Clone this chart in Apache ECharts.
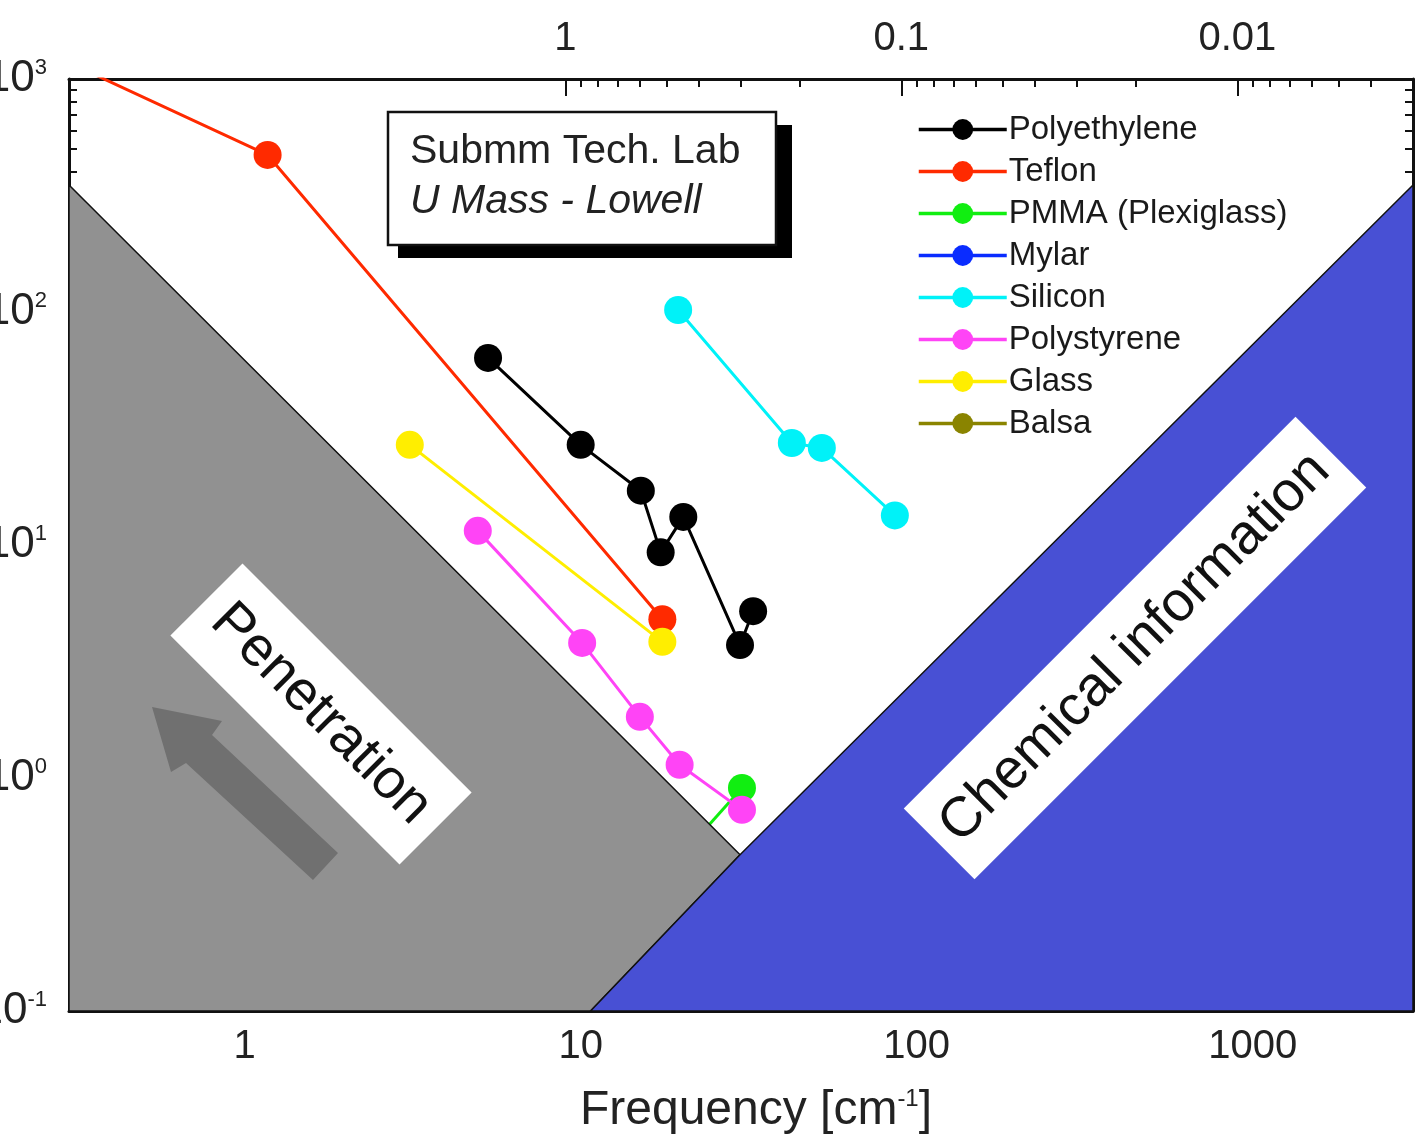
<!DOCTYPE html>
<html style="height: 100%">
<head>
    <meta charset="utf-8"/>
</head>
<body style="height: 100%; margin: 0; overflow: hidden; background: #fff">
<div id="container" style="width: 1415px; height: 1144px"></div>

<script type="text/javascript" src="https://cdn.jsdelivr.net/npm/echarts@6/dist/echarts.min.js"></script>

<script type="text/javascript">
    // measured points, frequency [cm-1] vs. depth
    var polyethyleneX = [5.3, 10.0, 15.1, 17.3, 20.2, 29.8, 32.6];
    var polyethyleneY = [63.5, 26.9, 17.1, 9.3, 13.2, 3.72, 5.2];
    var teflonX = [0.34, 1.17, 17.5];
    var teflonY = [1080, 472, 4.8];
    var pmmaX = [17.2, 30.2];
    var pmmaY = [0.365, 0.906];
    var mylarX = [];
    var mylarY = [];
    var siliconX = [19.5, 42.5, 52.2, 86.1];
    var siliconY = [102, 27.4, 26.1, 13.4];
    var polystyreneX = [4.94, 10.1, 15.0, 19.7, 30.2];
    var polystyreneY = [11.5, 3.80, 1.83, 1.14, 0.73];
    var glassX = [3.10, 17.5];
    var glassY = [26.9, 3.84];
    var balsaX = [];
    var balsaY = [];

    // shaded regions (corner points)
    var penetrationX = [0.3, 29.8, 10.7, 0.3];
    var penetrationY = [351, 0.468, 0.1, 0.1];
    var chemicalX = [10.7, 29.8, 3000, 3000];
    var chemicalY = [0.1, 0.468, 351, 0.1];

    // ticks
    var freqLabels = [1, 10, 100, 1000];
    var freqMinor = [0.4, 0.5, 0.6, 0.7, 0.8, 0.9, 2, 3, 4, 5, 6, 7, 8, 9,
        20, 30, 40, 50, 60, 70, 80, 90, 200, 300, 400, 500, 600, 700, 800, 900, 2000];
    var waveLabels = [1, 0.1, 0.01];
    var waveMinor = [0.2, 0.3, 0.4, 0.5, 0.6, 0.7, 0.8, 0.9,
        0.02, 0.03, 0.04, 0.05, 0.06, 0.07, 0.08, 0.09,
        0.004, 0.005, 0.006, 0.007, 0.008, 0.009];
    var depthLabels = [0.1, 1, 10, 100, 1000];
    var depthMinor = [0.2, 0.3, 0.4, 0.5, 0.6, 0.7, 0.8, 0.9, 2, 3, 4, 5, 6, 7, 8, 9,
        20, 30, 40, 50, 60, 70, 80, 90, 200, 300, 400, 500, 600, 700, 800, 900];

    var FONT = '"Liberation Sans", Arial, sans-serif';

    function pairs(xs, ys) {
        return xs.map(function (x, i) { return [x, ys[i]]; });
    }

    function dataLine(name, xs, ys, color) {
        return {
            name: name,
            type: 'line',
            xAxisIndex: 0,
            yAxisIndex: 0,
            data: pairs(xs, ys),
            symbol: 'circle',
            symbolSize: 28,
            color: color,
            lineStyle: {width: 3, color: color},
            itemStyle: {color: color},
            clip: true,
            z: 2
        };
    }

    function region(xs, ys, fill) {
        return {
            type: 'custom',
            xAxisIndex: 0,
            yAxisIndex: 0,
            data: [[1, 1]],
            silent: true,
            z: 5,
            renderItem: function (params, api) {
                var pts = xs.map(function (x, i) { return api.coord([x, ys[i]]); });
                return {
                    type: 'polygon',
                    shape: {points: pts},
                    style: {fill: fill, stroke: '#111', lineWidth: 1.5}
                };
            }
        };
    }

    function tickAxis(base, values, len, extra) {
        var a = Object.assign({}, base, {
            axisLine: {show: false},
            axisLabel: {show: false},
            splitLine: {show: false},
            axisTick: {show: true, inside: true, length: len, customValues: values,
                lineStyle: {color: '#111', width: 2}}
        });
        return Object.assign(a, extra || {});
    }

    var freqBase = {type: 'log', min: 0.3, max: 3000, position: 'bottom', gridIndex: 0};
    var waveBase = {type: 'log', min: 0.003, max: 30, inverse: true, position: 'top', gridIndex: 0};
    var leftBase = {type: 'log', min: 0.1, max: 1000, position: 'left', gridIndex: 0};
    var rightBase = {type: 'log', min: 0.1, max: 1000, position: 'right', gridIndex: 0};

    var frameLine = {show: true, lineStyle: {color: '#111', width: 3}};

    var dom = document.getElementById('container');
    var myChart = echarts.init(dom, null, {renderer: 'canvas'});

    var option = {
        backgroundColor: '#fff',
        animation: false,
        grid: {left: 69, right: 2, top: 79, bottom: 133, containLabel: false, outerBoundsMode: 'none'},
        legend: {
            data: ['Polyethylene', 'Teflon', 'PMMA (Plexiglass)', 'Mylar', 'Silicon', 'Polystyrene', 'Glass', 'Balsa'],
            orient: 'vertical',
            left: 912,
            top: 108,
            itemWidth: 88,
            itemHeight: 26,
            itemGap: 9,
            selectedMode: false,
            lineStyle: {width: 3.5},
            textStyle: {fontFamily: FONT, fontSize: 33, color: '#1a1a1a', padding: [0, 0, 0, -3]}
        },
        xAxis: [
            Object.assign({}, freqBase, {
                name: '{a|Frequency [cm}{s|-1}{a|]}',
                nameLocation: 'middle',
                nameGap: 76,
                nameTextStyle: {
                    padding: [0, 0, 0, 30],
                    rich: {
                        a: {fontFamily: FONT, fontSize: 48, color: '#222'},
                        s: {fontFamily: FONT, fontSize: 24, color: '#222', verticalAlign: 'top'}
                    }
                },
                axisLine: frameLine,
                splitLine: {show: false},
                axisTick: {show: true, inside: true, length: 16, customValues: freqLabels,
                    lineStyle: {color: '#111', width: 2}},
                axisLabel: {
                    customValues: freqLabels,
                    margin: 16,
                    fontFamily: FONT, fontSize: 40, color: '#222',
                    formatter: function (v) { return String(Math.round(v)); }
                }
            }),
            tickAxis(freqBase, freqMinor, 8),
            Object.assign({}, waveBase, {
                name: 'Wavelength [mm]',
                nameLocation: 'middle',
                nameGap: 79,
                nameTextStyle: {fontFamily: FONT, fontSize: 48, color: '#222'},
                axisLine: frameLine,
                splitLine: {show: false},
                axisTick: {show: true, inside: true, length: 17, customValues: waveLabels,
                    lineStyle: {color: '#111', width: 2}},
                axisLabel: {
                    customValues: waveLabels,
                    margin: 20,
                    fontFamily: FONT, fontSize: 40, color: '#222',
                    formatter: function (v) { return String(v); }
                }
            }),
            tickAxis(waveBase, waveMinor, 8)
        ],
        yAxis: [
            Object.assign({}, leftBase, {
                axisLine: frameLine,
                splitLine: {show: false},
                axisTick: {show: true, inside: true, length: 16, customValues: depthLabels,
                    lineStyle: {color: '#111', width: 2}},
                axisLabel: {
                    customValues: depthLabels,
                    margin: 22,
                    formatter: function (v) {
                        return '{b|10}{s|' + Math.round(Math.log10(v)) + '}';
                    },
                    rich: {
                        b: {fontFamily: FONT, fontSize: 44, color: '#222'},
                        s: {fontFamily: FONT, fontSize: 22, color: '#222', verticalAlign: 'top'}
                    }
                }
            }),
            tickAxis(leftBase, depthMinor, 8),
            Object.assign({}, rightBase, {
                axisLine: frameLine,
                splitLine: {show: false},
                axisLabel: {show: false},
                axisTick: {show: true, inside: true, length: 16, customValues: depthLabels,
                    lineStyle: {color: '#111', width: 2}}
            }),
            tickAxis(rightBase, depthMinor, 8)
        ],
        graphic: [
            // lab badge
            {type: 'rect', z: 100, shape: {x: 398, y: 125, width: 394, height: 133}, style: {fill: '#000'}},
            {type: 'rect', z: 101, shape: {x: 388, y: 112, width: 388, height: 133},
                style: {fill: '#fff', stroke: '#111', lineWidth: 2.5}},
            {type: 'text', z: 102, style: {text: 'Submm Tech. Lab', x: 410, y: 152, fontFamily: FONT,
                    fontSize: 41, fill: '#222', verticalAlign: 'middle'}},
            {type: 'text', z: 102, style: {text: 'U Mass - Lowell', x: 410, y: 202, fontFamily: FONT,
                    fontSize: 41, fontStyle: 'italic', fill: '#222', verticalAlign: 'middle'}},
            // arrow in penetration zone
            {type: 'polygon', z: 100, shape: {points: [[152, 707], [222, 721], [212, 735], [338, 853],
                        [313, 880], [186, 763], [171, 772]]}, style: {fill: '#707070'}},
            {
                type: 'group', z: 100, x: 321, y: 714, rotation: -Math.PI / 4,
                children: [
                    {type: 'rect', z: 100, shape: {x: -162, y: -51, width: 324, height: 102}, style: {fill: '#fff'}},
                    {type: 'text', z: 101, style: {text: 'Penetration', x: 0, y: 0, fontFamily: FONT, fontSize: 56,
                            fill: '#111', align: 'center', verticalAlign: 'middle'}}
                ]
            },
            {
                type: 'group', z: 100, x: 1135, y: 648, rotation: Math.PI / 4,
                children: [
                    {type: 'rect', z: 100, shape: {x: -277, y: -50, width: 554, height: 100}, style: {fill: '#fff'}},
                    {type: 'text', z: 101, style: {text: 'Chemical information', x: 0, y: 0, fontFamily: FONT,
                            fontSize: 56, fill: '#111', align: 'center', verticalAlign: 'middle'}}
                ]
            }
        ],
        series: [
            dataLine('Polyethylene', polyethyleneX, polyethyleneY, '#000000'),
            dataLine('Teflon', teflonX, teflonY, '#ff2a00'),
            dataLine('PMMA (Plexiglass)', pmmaX, pmmaY, '#11ee11'),
            dataLine('Mylar', mylarX, mylarY, '#0a2cff'),
            dataLine('Silicon', siliconX, siliconY, '#00f2f8'),
            dataLine('Polystyrene', polystyreneX, polystyreneY, '#ff44f6'),
            dataLine('Glass', glassX, glassY, '#ffee00'),
            dataLine('Balsa', balsaX, balsaY, '#8a8400'),
            region(penetrationX, penetrationY, '#919191'),
            region(chemicalX, chemicalY, '#4850d4')
        ]
    };

    myChart.setOption(option);
    window.addEventListener('resize', myChart.resize);
</script>
</body>
</html>
